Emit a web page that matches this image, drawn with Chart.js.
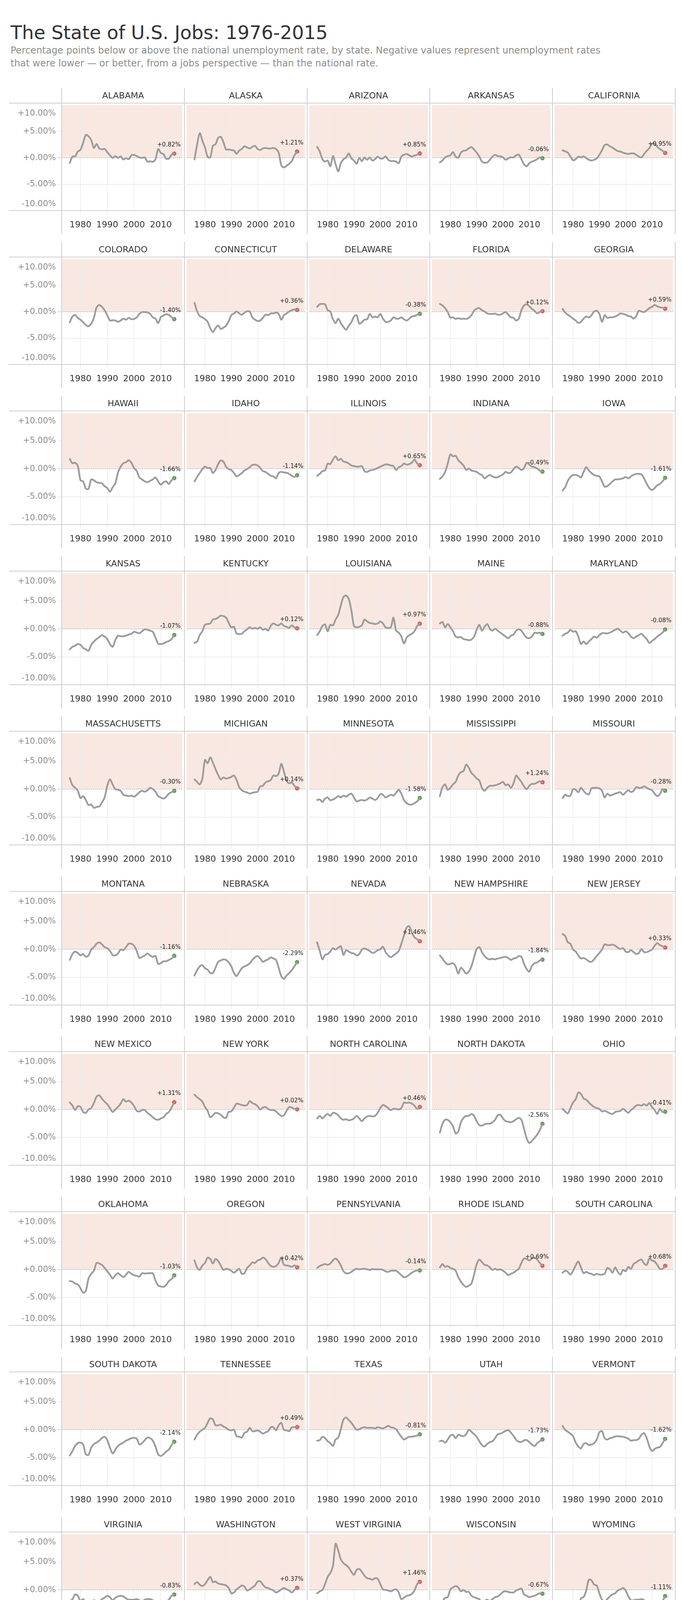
<!DOCTYPE html>
<html>
<head>
<meta charset="utf-8">
<title>The State of U.S. Jobs: 1976-2015</title>
<script src="https://cdn.jsdelivr.net/npm/chart.js@4.4.1/dist/chart.umd.min.js"></script>
<style>
  body { margin: 0; background: #fff; font-family: "DejaVu Sans", sans-serif; }
  #page { position: relative; width: 1748px; height: 4298px; overflow: hidden; }
  .title { position: absolute; left: 27px; top: 53px; font-size: 48px; line-height: 60px; color: #333; white-space: nowrap; }
  .sub { position: absolute; left: 27px; font-size: 24px; line-height: 33px; color: #8c8c8c; white-space: nowrap; }
  .panel-title { position: absolute; height: 40px; line-height: 40px; text-align: center; font-size: 22px; color: #333; white-space: nowrap; z-index: 3; }
  .rule { position: absolute; background: #cfcfcf; z-index: 4; }
  canvas { position: absolute; z-index: 1; }
</style>
</head>
<body>
<div id="page">
  <div class="title">The State of U.S. Jobs: 1976-2015</div>
  <div class="sub" style="top:113px">Percentage points below or above the national unemployment rate, by state. Negative values represent unemployment rates</div>
  <div class="sub" style="top:146px">that were lower — or better, from a jobs perspective — than the national rate.</div>
</div>
<script>
// years on the x axis
const years = [1976, 1977, 1978, 1979, 1980, 1981, 1982, 1983, 1984, 1985,
               1986, 1987, 1988, 1989, 1990, 1991, 1992, 1993, 1994, 1995,
               1996, 1997, 1998, 1999, 2000, 2001, 2002, 2003, 2004, 2005,
               2006, 2007, 2008, 2009, 2010, 2011, 2012, 2013, 2014, 2015];
const xTicks = [1980, 1990, 2000, 2010];
const yTicks = [10, 5, 0, -5, -10];
const yTickLabels = ['+10.00%', '+5.00%', '+0.00%', '-5.00%', '-10.00%'];

const states = ['ALABAMA', 'ALASKA', 'ARIZONA', 'ARKANSAS', 'CALIFORNIA',
  'COLORADO', 'CONNECTICUT', 'DELAWARE', 'FLORIDA', 'GEORGIA',
  'HAWAII', 'IDAHO', 'ILLINOIS', 'INDIANA', 'IOWA',
  'KANSAS', 'KENTUCKY', 'LOUISIANA', 'MAINE', 'MARYLAND',
  'MASSACHUSETTS', 'MICHIGAN', 'MINNESOTA', 'MISSISSIPPI', 'MISSOURI',
  'MONTANA', 'NEBRASKA', 'NEVADA', 'NEW HAMPSHIRE', 'NEW JERSEY',
  'NEW MEXICO', 'NEW YORK', 'NORTH CAROLINA', 'NORTH DAKOTA', 'OHIO',
  'OKLAHOMA', 'OREGON', 'PENNSYLVANIA', 'RHODE ISLAND', 'SOUTH CAROLINA',
  'SOUTH DAKOTA', 'TENNESSEE', 'TEXAS', 'UTAH', 'VERMONT',
  'VIRGINIA', 'WASHINGTON', 'WEST VIRGINIA', 'WISCONSIN', 'WYOMING'];

// state rate minus national rate, percentage points, 1976-2015
const alabama = [-0.97,0.25,0.3,1.2,1.55,2.9,4.4,4.1,3.4,1.9, 2.65,1.8,1.65,1.7,1.1,0.5,0.0,0.35,0.0,0.3, -0.3,-0.05,-0.25,0.5,0.55,0.35,0.07,0.0,0.1,-0.7, -0.65,-0.75,-0.25,1.7,0.95,0.7,-0.15,-0.15,0.6,0.82];
const alaska = [-0.3,2.5,4.7,3.3,2.0,0.2,0.1,2.3,2.6,3.8, 4.0,3.0,1.6,1.6,1.5,1.4,0.8,1.4,1.7,2.2, 2.0,1.8,2.1,2.3,1.7,1.5,1.8,1.9,1.8,1.8, 1.9,1.7,1.0,-1.4,-1.8,-1.5,-1.1,-0.6,0.5,1.21];
const arizona = [2.1,1.2,-0.25,-0.7,-0.5,-1.6,0.35,-1.2,-2.55,-1.0, -0.25,0.1,0.85,-0.1,-0.5,-1.1,0.0,-0.6,0.1,-0.35, 0.1,-0.5,-0.25,0.25,-0.1,-0.1,0.3,-0.35,-0.6,-0.6, -0.7,-1.0,0.25,0.6,0.75,0.5,0.25,0.45,0.6,0.85];
const arkansas = [-0.85,-0.5,0.1,0.35,0.5,1.1,0.25,0.05,1.0,1.35, 1.45,1.8,2.05,1.6,1.0,0.25,-0.7,-0.9,-0.85,-0.35, 0.25,0.6,0.35,0.3,0.1,-0.35,-0.1,0.1,0.1,0.5, 0.6,-0.25,-1.2,-1.6,-1.0,-0.7,-0.5,-0.25,0.1,-0.06];
const california = [1.45,1.25,1.0,0.25,-0.45,-0.25,0.25,0.1,0.3,-0.05, -0.35,-0.5,-0.35,-0.1,0.6,1.45,2.45,2.55,2.2,1.95, 1.6,1.3,1.2,1.0,0.85,0.75,0.85,0.85,0.6,0.25, 0.1,0.75,1.35,1.85,2.7,2.75,2.1,1.7,1.35,0.95];
const colorado = [-2.0,-0.9,-0.6,-1.15,-1.5,-2.0,-2.5,-2.75,-2.25,-1.15, 0.8,1.3,0.95,0.3,-0.65,-1.65,-1.6,-1.65,-1.9,-1.65, -1.3,-1.5,-1.15,-1.4,-1.35,-1.05,-0.4,-0.05,-0.05,-0.1, -0.4,-1.05,-1.3,-2.15,-1.0,-0.7,-0.45,-0.6,-1.0,-1.40];
const connecticut = [1.7,0.1,-0.8,-1.05,-1.4,-1.9,-3.1,-3.85,-3.1,-2.6, -3.25,-3.0,-2.65,-1.8,-0.65,-0.3,0.05,-0.3,-0.55,-0.15, 0.1,0.05,-1.05,-1.5,-1.75,-1.65,-1.15,-0.55,-0.65,-0.3, -0.3,-0.15,-0.4,-1.5,-0.65,-0.3,0.05,0.3,0.45,0.36];
const delaware = [0.95,1.45,1.5,1.45,0.3,0.05,-1.4,-2.15,-1.3,-2.15, -2.9,-3.4,-2.65,-2.0,-0.9,-0.65,-2.25,-2.0,-1.5,-1.4, -0.4,-1.05,-0.9,-1.05,-0.4,-1.3,-1.9,-1.9,-1.65,-1.05, -1.3,-1.3,-1.05,-1.4,-1.65,-1.3,-0.9,-0.8,-0.55,-0.38];
const florida = [1.5,1.2,0.7,-0.05,-1.1,-1.05,-1.35,-1.2,-1.35,-1.3, -1.35,-1.15,-0.65,0.2,0.6,0.7,0.3,0.05,-0.3,-0.4, -0.4,-0.35,-0.55,-0.55,-0.3,-0.05,-0.55,-1.05,-1.15,-1.65, -1.3,0.3,1.2,1.45,1.05,0.55,0.2,-0.3,0.0,0.12];
const georgia = [0.55,-0.15,-0.55,-0.9,-1.3,-1.65,-2.1,-1.9,-1.3,-0.9, -1.05,-0.65,0.05,0.2,-0.4,-1.9,-0.65,-1.15,-1.05,-1.05, -0.9,-0.65,-0.3,-0.4,-0.55,-0.8,-0.9,-1.3,-0.8,0.2, 0.05,-0.05,0.3,0.7,0.95,1.3,1.05,0.85,0.8,0.59];
const hawaii = [1.8,1.0,1.1,0.5,-2.05,-2.25,-3.55,-3.6,-1.9,-2.05, -2.4,-2.5,-2.6,-3.1,-3.45,-4.1,-3.3,-2.6,-0.65,0.4, 1.0,1.2,1.55,1.1,0.15,-0.4,-1.55,-1.9,-2.25,-2.4, -2.15,-1.9,-1.55,-2.25,-2.85,-2.4,-2.25,-2.7,-2.05,-1.66];
const idaho = [-2.25,-1.45,-0.75,-0.05,0.4,0.15,0.15,-0.75,-0.2,0.85, 1.5,1.3,0.4,-0.05,-0.2,-0.75,-1.35,-1.1,-0.75,-0.3, -0.05,0.3,0.7,0.75,0.6,0.15,-0.4,-0.55,-0.9,-1.25, -1.35,-1.7,-0.75,-0.55,-0.65,-0.7,-0.9,-1.25,-1.45,-1.14];
const illinois = [-1.25,-0.9,-0.4,-0.3,0.95,0.85,1.65,2.25,1.55,1.8, 1.3,1.2,0.95,0.6,0.5,0.4,0.4,0.5,-0.4,-0.55, -0.3,-0.2,-0.05,0.15,0.4,0.6,0.8,0.75,0.6,0.5, -0.2,0.3,0.5,0.95,0.75,0.85,1.1,1.65,0.95,0.65];
const indiana = [-1.8,-1.35,-0.55,0.95,2.6,2.25,2.35,1.55,1.1,0.6, -0.2,0.05,-0.3,-0.4,-0.55,-0.9,-1.1,-1.7,-1.35,-1.1, -1.35,-1.55,-1.5,-1.25,-1.0,-0.55,-0.75,-0.65,-0.05,0.4, 0.15,-0.2,0.15,1.1,0.75,0.4,0.3,0.05,-0.3,-0.49];
const iowa = [-3.9,-3.3,-2.15,-1.45,-1.1,-1.1,-1.25,-1.55,-0.55,0.3, -0.3,-0.75,-1.1,-1.25,-1.35,-2.25,-3.2,-3.1,-2.7,-2.25, -1.9,-1.9,-1.8,-1.7,-1.45,-1.7,-1.35,-1.05,-0.9,-0.9, -1.0,-1.7,-2.7,-3.45,-3.8,-3.45,-2.95,-2.7,-2.25,-1.61];
const kansas = [-3.65,-3.2,-3.0,-2.7,-2.85,-3.4,-3.65,-3.9,-2.85,-2.25, -1.8,-1.45,-1.1,-1.35,-1.8,-2.7,-3.2,-2.0,-1.2,-1.3, -1.3,-1.2,-1.0,-0.85,-0.5,-0.65,-0.75,-0.4,-0.05,-0.15, -0.3,-0.5,-1.55,-2.6,-2.7,-2.6,-2.35,-2.15,-1.8,-1.07];
const kentucky = [-2.5,-2.25,-1.1,-0.4,0.75,0.9,1.0,1.7,1.8,2.05, 2.4,2.3,2.05,1.1,0.3,0.4,-0.8,-0.9,-0.85,-0.4, -0.05,0.3,0.05,0.2,0.05,0.3,-0.15,0.05,-0.3,0.55, 1.0,0.75,0.65,1.0,0.55,0.4,0.2,0.65,0.3,0.12];
const louisiana = [-1.1,-0.4,0.55,0.8,-0.4,0.75,0.65,1.7,2.5,4.25, 5.75,6.0,5.4,3.35,0.55,0.3,0.4,0.65,1.7,1.35, 1.1,1.0,0.9,1.0,1.35,1.0,0.3,0.2,0.3,2.05, -0.3,-0.65,-1.35,-2.6,-1.55,-1.1,-0.85,-0.4,0.55,0.97];
const maine = [1.0,1.25,0.3,0.9,0.3,-0.4,-1.35,-1.5,-1.45,-1.8, -1.9,-2.0,-1.9,-1.35,-0.15,0.75,-0.3,0.4,0.9,0.05, -0.3,0.05,-0.3,-0.65,-1.0,-1.35,-1.65,-1.2,-1.0,-0.3, -0.05,-0.3,-1.0,-1.55,-1.65,-1.35,-0.65,-0.75,-0.65,-0.88];
const maryland = [-1.2,-0.85,-0.65,-0.15,-0.5,-0.4,-1.35,-2.7,-2.25,-2.7, -2.25,-1.8,-1.35,-1.55,-1.1,-0.75,-0.75,-0.8,-0.65,-0.4, -0.15,0.05,-0.3,-0.65,-0.4,-0.75,-1.35,-1.65,-1.35,-1.1, -0.85,-1.35,-1.8,-2.5,-2.15,-1.8,-1.35,-1.0,-0.65,-0.08];
const massachusetts = [2.0,0.7,0.25,-0.3,-1.6,-1.25,-1.95,-2.85,-2.75,-3.35, -3.2,-3.1,-2.4,-1.5,0.6,1.75,0.85,0.0,-0.1,-0.3, -1.0,-1.15,-1.25,-1.15,-1.35,-1.0,-0.55,-0.3,-0.45,-0.2, 0.25,0.0,-0.45,-1.25,-1.5,-1.7,-1.35,-0.8,-0.55,-0.30];
const michigan = [1.75,1.3,0.85,1.9,5.25,4.65,5.7,4.75,3.6,2.55, 1.75,2.1,1.9,2.0,2.2,2.45,1.65,0.35,-0.2,-0.45, -0.6,-0.8,-0.65,-0.55,-0.45,0.5,0.6,1.2,1.4,1.65, 2.45,2.35,2.8,4.55,3.15,1.55,1.05,1.2,0.6,0.14];
const minnesota = [-1.95,-1.85,-2.3,-1.7,-1.5,-2.0,-1.85,-1.6,-1.25,-1.5, -1.15,-1.35,-1.0,-0.8,-1.5,-2.2,-2.05,-1.95,-2.05,-1.85, -1.5,-1.7,-1.95,-1.6,-0.9,-1.0,-1.5,-1.25,-1.0,-1.15, -0.65,-0.1,-0.8,-1.95,-2.5,-2.75,-2.75,-2.5,-2.2,-1.58];
const mississippi = [-1.25,0.35,0.85,-0.1,0.25,0.85,1.3,2.45,3.05,3.25, 4.4,3.85,2.9,2.45,1.9,1.55,0.25,-0.3,0.25,0.6, 0.6,0.7,0.85,1.05,1.3,0.7,0.85,0.25,1.05,2.45, 1.9,1.3,0.5,0.0,0.6,0.95,0.95,1.2,1.4,1.24];
const missouri = [-1.6,-1.0,-1.25,-1.15,0.0,-0.1,-0.55,0.25,-0.3,-0.8, -0.9,0.15,0.25,0.25,0.15,-0.3,-1.5,-0.8,-1.15,-1.0, -0.8,-0.65,-0.55,-1.0,-0.55,-0.2,-0.5,-0.3,0.35,0.25, 0.25,0.5,0.25,0.0,-0.2,-0.8,-1.25,-0.9,0.0,-0.28];
const montana = [-1.9,-0.85,-0.4,-0.65,-1.1,-0.85,-1.35,-1.1,-0.05,0.4, 1.0,1.25,0.9,0.4,0.2,-0.3,-1.0,-1.1,-0.75,-0.05, -0.15,0.4,1.0,1.0,0.65,-0.3,-1.55,-1.35,-1.1,-0.75, -1.1,-1.35,-1.2,-2.6,-2.5,-2.15,-2.15,-1.9,-1.65,-1.16];
const nebraska = [-4.7,-3.75,-3.05,-2.85,-3.4,-3.65,-4.25,-4.25,-3.3,-2.25, -2.0,-1.8,-1.9,-2.35,-3.05,-4.25,-4.8,-4.1,-3.4,-3.05, -2.85,-2.5,-1.9,-1.45,-1.2,-1.65,-2.25,-2.0,-1.8,-1.45, -1.65,-1.9,-3.3,-4.8,-5.3,-4.7,-4.25,-3.75,-3.05,-2.29];
const nevada = [1.25,-0.3,-1.8,-1.0,-0.85,-0.4,0.2,-0.05,0.3,0.55, -1.0,-0.15,-0.4,-0.65,-0.75,-1.1,-0.85,-0.05,0.15,-0.05, -0.3,-0.65,-0.5,-0.15,0.05,0.45,-0.5,-1.1,-1.4,-1.1, -0.75,-0.3,1.0,2.5,3.9,4.15,3.0,2.15,1.8,1.46];
const newHampshire = [-1.1,-1.65,-2.35,-2.7,-2.6,-2.5,-3.05,-4.35,-3.3,-3.75, -4.35,-4.0,-3.05,-1.45,0.05,0.4,-0.5,-1.2,-1.65,-1.8, -1.7,-1.8,-1.65,-1.55,-1.4,-1.35,-1.55,-1.9,-1.65,-1.55, -1.2,-1.35,-2.6,-3.55,-4.0,-2.95,-2.5,-2.35,-2.0,-1.84];
const newJersey = [2.75,2.4,1.25,1.0,-0.05,-0.4,-1.1,-1.65,-1.55,-1.8, -2.15,-2.25,-1.8,-1.2,-0.65,-0.05,0.9,0.75,0.75,0.85, 0.65,0.3,0.05,0.2,-0.4,-0.5,-0.15,-0.5,-0.85,-0.65, 0.05,-0.5,-0.5,-0.3,-0.05,0.65,1.1,0.75,0.55,0.33];
const newMexico = [1.25,0.7,-0.1,0.6,0.45,-0.45,-0.6,0.0,0.25,1.15, 2.3,2.55,1.95,1.4,0.95,0.25,-0.45,0.0,0.45,1.05, 1.85,1.4,1.6,1.25,0.6,-0.25,-0.35,-0.1,-0.1,-0.6, -0.95,-1.4,-1.75,-1.85,-1.6,-1.4,-0.8,-0.45,0.35,1.31];
const newYork = [2.65,2.2,1.85,1.4,0.45,-0.25,-1.4,-1.05,-0.6,-0.7, -0.95,-1.4,-1.5,-0.45,-0.35,0.35,1.05,0.95,0.8,0.7, 0.8,1.5,1.15,0.95,0.6,0.0,0.35,0.45,0.1,-0.1, -0.1,-0.35,-0.8,-1.15,-1.05,-0.25,0.45,0.35,0.1,0.02];
const northCarolina = [-1.6,-1.15,-1.6,-1.15,-0.8,-1.15,-0.6,-0.7,-1.05,-1.6, -1.85,-1.75,-1.95,-1.85,-1.6,-1.15,-1.6,-2.1,-1.6,-1.25, -1.15,-1.25,-1.15,-0.6,0.25,0.8,0.6,0.25,-0.1,0.1, 0.1,0.0,0.25,1.25,1.15,1.25,1.05,0.7,0.1,0.46];
const northDakota = [-4.15,-2.55,-1.85,-1.85,-2.3,-3.0,-4.3,-3.95,-2.3,-1.5, -1.15,-1.15,-0.8,-1.15,-2.1,-2.8,-2.9,-2.65,-2.55,-2.55, -2.3,-1.85,-1.05,-0.95,-1.6,-2.1,-2.2,-2.3,-2.1,-1.75, -1.5,-1.85,-3.45,-5.2,-6.0,-5.65,-5.1,-4.5,-3.7,-2.56];
const ohio = [0.1,-0.35,-0.7,0.25,1.25,1.85,3.05,2.8,1.95,1.75, 1.25,0.8,0.45,0.25,0.1,-0.35,-0.25,-0.45,-0.7,-0.8, -0.45,-0.35,-0.25,0.1,-0.25,-0.6,-0.1,0.25,0.7,0.8, 0.7,0.95,0.7,1.15,0.45,-0.1,-0.8,0.1,-0.45,-0.41];
const oklahoma = [-2.05,-2.15,-2.5,-2.65,-3.35,-4.15,-3.8,-1.6,-0.75,-0.2, 1.2,1.1,0.85,0.3,-0.3,-0.9,-1.6,-1.0,-0.65,-1.0, -1.35,-0.9,-0.4,-0.75,-1.0,-1.1,-1.25,-0.65,-0.7,-0.65, -0.65,-0.65,-1.95,-2.85,-3.0,-3.1,-2.75,-2.05,-1.7,-1.03];
const oregon = [1.65,0.4,-0.05,0.75,1.2,2.15,1.9,1.1,1.9,1.55, 0.75,-0.05,0.15,0.05,-0.2,-0.55,-0.2,0.15,-0.75,-0.65, 0.3,0.75,1.3,1.2,1.65,1.8,2.15,1.9,1.2,0.65, 0.5,0.65,1.2,2.15,0.85,0.75,0.65,0.5,0.75,0.42];
const pennsylvania = [0.3,0.65,0.85,1.0,0.85,1.1,1.65,2.0,1.55,0.75, -0.3,-0.65,-0.65,-0.4,-0.05,0.15,0.05,0.1,0.15,0.05, -0.05,0.1,0.05,0.05,0.05,-0.05,-0.3,-0.4,-0.2,-0.2, -0.2,-0.55,-1.0,-1.35,-1.25,-0.9,-0.55,-0.3,-0.15,-0.14];
const rhodeIsland = [0.4,1.0,0.5,0.65,0.3,0.15,-0.2,-1.35,-2.15,-2.75, -3.1,-2.85,-2.5,-0.9,1.0,1.8,1.35,0.85,0.75,0.4, -0.05,0.15,-0.05,0.05,-0.2,-0.55,-1.0,-0.75,-0.55,-0.2, 0.15,1.2,2.0,1.9,1.65,2.0,2.15,1.8,1.2,0.69];
const southCarolina = [-0.55,-0.2,-0.4,-0.9,-0.2,0.75,1.45,0.4,-0.65,-0.4, -0.65,-0.75,-1.0,-0.75,-0.9,-0.9,-0.75,0.3,0.05,-0.55, 0.4,-0.4,-0.9,-0.05,-0.3,0.5,0.15,1.0,1.3,1.65, 1.8,1.1,0.85,2.0,1.65,1.45,0.85,0.15,0.15,0.68];
const southDakota = [-4.6,-3.8,-2.9,-2.4,-2.3,-2.65,-4.4,-4.5,-3.2,-2.55, -2.3,-1.95,-1.5,-1.25,-1.85,-3.2,-4.25,-3.55,-2.9,-2.55, -2.3,-1.95,-1.75,-1.5,-1.45,-1.6,-2.65,-2.4,-1.85,-1.4, -1.5,-1.95,-3.0,-4.4,-4.7,-4.4,-3.9,-3.55,-2.75,-2.14];
const tennessee = [-1.75,-0.9,-0.35,0.0,0.35,1.25,2.05,1.85,0.8,0.8, 0.9,0.6,0.35,0.0,-0.1,0.0,-1.15,-1.25,-1.4,-0.55, -0.35,0.35,-0.25,-0.25,-0.1,-0.35,-0.7,-0.45,-0.25,0.45, 0.45,-0.1,0.8,1.25,0.0,-0.1,-0.25,0.45,0.45,0.49];
const texas = [-1.95,-1.85,-1.25,-1.5,-2.05,-2.4,-2.9,-1.75,-1.4,0.1, 1.85,2.2,1.75,1.25,0.6,0.0,0.1,0.35,0.45,0.35, 0.35,0.35,0.25,0.45,0.35,0.25,0.45,0.7,0.45,0.35, 0.1,-0.6,-1.25,-1.75,-1.5,-1.25,-1.25,-1.15,-1.05,-0.81];
const utah = [-2.05,-1.95,-2.3,-1.75,-1.05,-0.9,-1.5,-0.9,-1.05,-1.15, -0.8,0.0,-0.35,-0.8,-1.25,-2.05,-2.75,-3.0,-2.55,-2.2, -2.05,-1.5,-0.8,-0.7,-0.45,-0.2,-0.05,-0.5,-1.1,-1.8, -2.15,-2.2,-1.9,-1.85,-2.2,-2.65,-2.9,-2.4,-2.05,-1.73];
const vermont = [0.7,0.0,-0.35,-0.7,-1.15,-2.3,-3.0,-3.35,-2.55,-2.4, -2.75,-2.65,-2.4,-1.75,-0.45,-0.25,-1.5,-1.75,-1.5,-1.4, -1.2,-1.15,-1.2,-1.25,-1.4,-1.6,-1.95,-1.85,-1.85,-1.6, -0.9,-0.6,-1.5,-3.0,-3.8,-3.45,-3.2,-3.1,-2.4,-1.62];
const virginia = [-2.0,-1.65,-0.8,-1.05,-2.0,-1.65,-2.45,-3.4,-2.7,-1.85, -2.1,-2.1,-1.65,-1.4,-1.05,-1.3,-1.85,-1.4,-1.15,-1.05, -1.15,-1.5,-1.75,-1.75,-1.75,-1.65,-1.85,-2.0,-1.75,-1.65, -1.65,-1.85,-2.2,-2.8,-2.7,-2.35,-2.1,-1.75,-1.05,-0.83];
const washington = [1.05,1.4,0.95,0.7,1.05,1.75,2.35,1.4,1.5,1.15, 1.05,0.95,0.8,0.35,-0.6,-0.45,0.1,0.45,0.8,0.6, -0.1,0.1,0.45,0.8,1.5,1.55,0.95,0.45,0.35,0.1, -0.1,-0.45,-0.25,0.1,0.35,0.1,-0.1,-0.45,0.0,0.37];
const westVirginia = [-0.6,-0.25,0.0,1.05,2.35,3.05,4.3,8.3,7.1,5.5, 4.8,4.45,4.0,3.25,2.7,3.6,3.75,3.25,2.55,2.1, 2.0,1.85,2.1,2.0,1.05,0.1,0.0,-0.1,-0.25,0.0, 0.1,-0.45,-1.65,-1.4,-1.05,-0.95,-0.7,-0.1,1.05,1.46];
const wisconsin = [-2.35,-2.0,-1.4,-1.3,0.1,0.45,0.7,0.45,-0.25,0.0, -0.35,-0.35,-1.05,-1.3,-1.5,-1.65,-2.55,-2.0,-1.75,-2.0, -1.65,-1.3,-1.15,-0.8,-0.35,-0.25,-0.35,-0.45,-0.45,-0.1, 0.1,0.25,-0.8,-1.05,-1.3,-1.15,-1.05,-0.8,-0.6,-0.67];
const wyoming = [-3.85,-3.75,-3.15,-3.3,-3.5,-3.75,-3.6,-1.5,-1.3,-0.1, 1.85,1.75,0.95,0.8,-0.6,-1.75,-2.1,-1.65,-1.15,-0.8, -0.6,-0.1,0.1,0.35,-0.1,-1.15,-1.85,-1.85,-1.75,-1.75, -1.65,-1.85,-2.8,-3.15,-3.4,-3.3,-2.9,-2.7,-2.0,-1.11];

const series = [alabama, alaska, arizona, arkansas, california,
  colorado, connecticut, delaware, florida, georgia,
  hawaii, idaho, illinois, indiana, iowa,
  kansas, kentucky, louisiana, maine, maryland,
  massachusetts, michigan, minnesota, mississippi, missouri,
  montana, nebraska, nevada, newHampshire, newJersey,
  newMexico, newYork, northCarolina, northDakota, ohio,
  oklahoma, oregon, pennsylvania, rhodeIsland, southCarolina,
  southDakota, tennessee, texas, utah, vermont,
  virginia, washington, westVirginia, wisconsin, wyoming];

// layout of the grid
const AXIS_LEFT = 23, COL_LEFT = 158, COL_W = 314, NCOL = 5, X_AXIS_H = 62;
const rowTop = [264, 658, 1052, 1462, 1872, 2282, 2692, 3102, 3512, 3922];
const rowH = [275, 275, 291, 291, 291, 291, 291, 291, 291, 291];

const PINK = '#f9e8e1', LINE = '#9c9c9c', RED = '#e15759', GREEN = '#59a14f';
const FONT = '"DejaVu Sans", sans-serif';
Chart.defaults.font.family = FONT;

const page = document.getElementById('page');

function rule(x, y, w, h) {
  const d = document.createElement('div');
  d.className = 'rule';
  d.style.left = x + 'px'; d.style.top = y + 'px';
  d.style.width = w + 'px'; d.style.height = h + 'px';
  page.appendChild(d);
}

// pink band, dashed zero line, end label, y labels
const decor = {
  id: 'decor',
  beforeDraw(chart) {
    const { ctx, chartArea: a, scales: { y } } = chart;
    const y0 = y.getPixelForValue(0), y10 = y.getPixelForValue(10);
    ctx.save();
    ctx.fillStyle = PINK;
    ctx.fillRect(a.left, y10, a.right - a.left, y0 - y10);
    ctx.restore();
  },
  beforeDatasetsDraw(chart, args, opts) {
    const { ctx, chartArea: a, scales: { y } } = chart;
    const y0 = Math.round(y.getPixelForValue(0));
    ctx.save();
    ctx.strokeStyle = '#c4c4c4';
    ctx.lineWidth = 2;
    ctx.setLineDash([3, 2]);
    ctx.beginPath();
    ctx.moveTo(a.left - (opts.first ? 10 : 0), y0);
    ctx.lineTo(a.right, y0);
    ctx.stroke();
    ctx.restore();
  },
  afterDatasetsDraw(chart, args, opts) {
    const { ctx, chartArea: a } = chart;
    const pt = chart.getDatasetMeta(1).data[0];
    ctx.save();
    ctx.font = '15px ' + FONT;
    ctx.fillStyle = '#1a1a1a';
    ctx.textAlign = 'center';
    ctx.textBaseline = 'middle';
    const w = ctx.measureText(opts.label).width;
    const cx = Math.min(Math.max(pt.x, a.left + w / 2 + 2), a.right - w / 2 - 4);
    ctx.fillText(opts.label, cx, pt.y - 22);
    ctx.restore();
  },
  afterDraw(chart, args, opts) {
    if (!opts.first) return;
    const { ctx, chartArea: a, scales: { y } } = chart;
    ctx.save();
    ctx.font = '21px ' + FONT;
    ctx.fillStyle = '#8a8a8a';
    ctx.textAlign = 'right';
    ctx.textBaseline = 'middle';
    yTicks.forEach((v, k) => {
      const py = Math.min(Math.max(y.getPixelForValue(v), a.top + 21), a.bottom - 16);
      ctx.fillText(yTickLabels[k], a.left - 15, py);
    });
    ctx.restore();
  }
};

states.forEach((name, i) => {
  const r = Math.floor(i / NCOL), c = i % NCOL;
  const vals = series[i];
  const last = vals[vals.length - 1];
  const first = c === 0;
  const colX = COL_LEFT + c * COL_W;

  const t = document.createElement('div');
  t.className = 'panel-title';
  t.style.left = colX + 'px'; t.style.width = COL_W + 'px';
  t.style.top = (rowTop[r] - 39) + 'px';
  t.textContent = name;
  page.appendChild(t);

  const cv = document.createElement('canvas');
  const left = first ? 0 : colX;
  const w = first ? COL_LEFT + COL_W : COL_W;
  const h = rowH[r] + X_AXIS_H;
  cv.width = w; cv.height = h;
  cv.style.left = left + 'px'; cv.style.top = rowTop[r] + 'px';
  cv.style.width = w + 'px'; cv.style.height = h + 'px';
  page.appendChild(cv);

  new Chart(cv, {
    type: 'line',
    data: {
      datasets: [{
        data: years.map((yr, k) => ({ x: yr, y: vals[k] })),
        borderColor: LINE,
        borderWidth: 4.5,
        pointRadius: 0,
        tension: 0.3,
        borderCapStyle: 'round',
        borderJoinStyle: 'round'
      }, {
        data: [{ x: years[years.length - 1], y: last }],
        showLine: false,
        pointRadius: 5.5,
        pointBorderWidth: 0,
        pointBackgroundColor: last > 0 ? RED : GREEN
      }]
    },
    options: {
      responsive: false,
      animation: false,
      events: [],
      layout: { padding: 0 },
      plugins: {
        legend: { display: false },
        tooltip: { enabled: false },
        decor: { first: first, label: (last > 0 ? '+' : '') + last.toFixed(2) + '%' }
      },
      scales: {
        x: {
          type: 'linear', min: 1973, max: 2018,
          afterBuildTicks: s => { s.ticks = xTicks.map(v => ({ value: v })); },
          afterFit: s => { s.height = X_AXIS_H; },
          grid: { color: '#ececec', lineWidth: 1.5, tickLength: 10 },
          border: { display: false },
          ticks: { color: '#333', font: { size: 22 }, padding: 14, maxRotation: 0, autoSkip: false, callback: v => String(v) }
        },
        y: {
          type: 'linear', min: -10, max: 10,
          afterBuildTicks: s => { s.ticks = [{ value: -5 }, { value: 5 }]; },
          afterFit: s => { s.width = first ? COL_LEFT : 0; },
          grid: { color: '#ececec', lineWidth: 2, drawTicks: first, tickLength: 10 },
          border: { display: false },
          ticks: { display: false }
        }
      }
    },
    plugins: [decor]
  });
});

// frame rules: row borders and column separators
const right = COL_LEFT + NCOL * COL_W;
rowTop.forEach((top, r) => {
  const bottom = top + rowH[r];
  rule(AXIS_LEFT, top - 1, right - AXIS_LEFT, 2);
  rule(AXIS_LEFT, bottom - 1, right - AXIS_LEFT, 2);
  for (let c = 0; c <= NCOL; c++) {
    rule(COL_LEFT + c * COL_W - 1, top - 39, 2, rowH[r] + 39 + 61);
  }
});
</script>
</body>
</html>
